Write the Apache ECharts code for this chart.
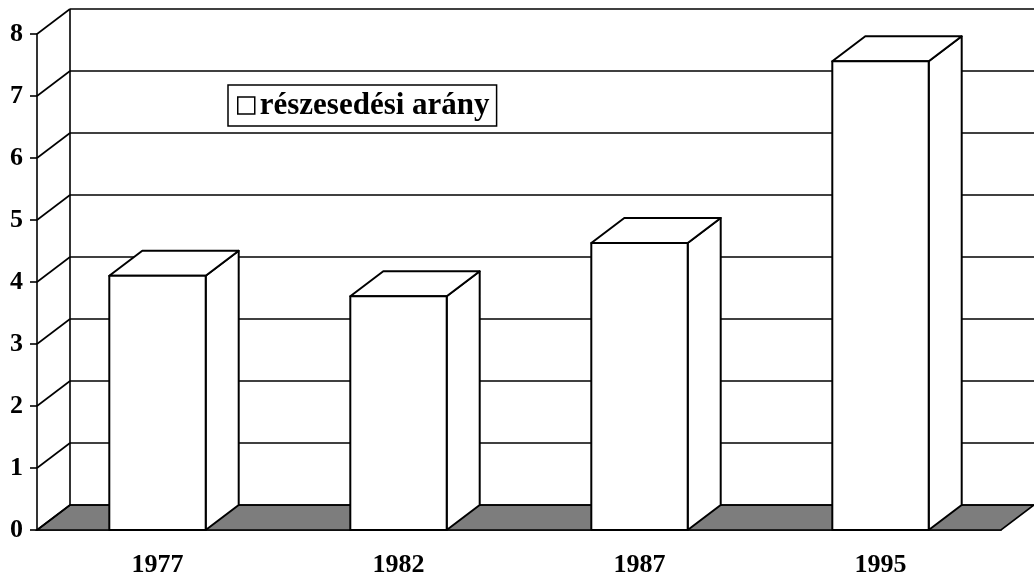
<!DOCTYPE html>
<html>
<head>
<meta charset="utf-8">
<script src="https://cdn.jsdelivr.net/npm/echarts@6/dist/echarts.min.js"></script>
<style>
  html, body { margin: 0; padding: 0; background: #fff; }
  #chart { width: 1034px; height: 584px; }
</style>
</head>
<body>
<div id="chart"></div>
<script>
var categories = ["1977", "1982", "1987", "1995"];
var shareValues = [4.1, 3.77, 4.63, 7.56];
var yTicks = [0, 1, 2, 3, 4, 5, 6, 7, 8];
var seriesName = "részesedési arány";

// 3D depth offset (px)
var DX = 33;
var DY = -25;
var FONT = "'Liberation Serif', 'Times New Roman', serif";

var chart = echarts.init(document.getElementById("chart"));

function plotEdges(api, v) {
  var band = api.size([1, 0])[0];
  var p0 = api.coord([0, v]);
  var p1 = api.coord([categories.length - 1, v]);
  return { xl: p0[0] - band / 2, xr: p1[0] + band / 2, y: p0[1] };
}

var lineStyle = { stroke: "#000", lineWidth: 1.6, fill: null };

chart.setOption({
  animation: false,
  backgroundColor: "#fff",
  grid: { left: 37, right: 33, top: 34, bottom: 54, containLabel: false },
  legend: {
    left: 228,
    top: 85,
    padding: [5, 7, 5, 9],
    borderColor: "#000",
    borderWidth: 1.5,
    itemWidth: 17,
    itemHeight: 17,
    itemGap: 6,
    textStyle: { fontFamily: FONT, fontWeight: "bold", fontSize: 31, color: "#000" },
    data: [{
      name: seriesName,
      icon: "rect",
      itemStyle: { color: "#fff", borderColor: "#000", borderWidth: 1.5 }
    }]
  },
  xAxis: {
    type: "category",
    data: categories,
    axisLine: { lineStyle: { color: "#000", width: 1.6 } },
    axisTick: { length: 9, lineStyle: { color: "#000", width: 1.6 } },
    axisLabel: { margin: 22, fontFamily: FONT, fontWeight: "bold", fontSize: 26, color: "#000" },
    splitLine: { show: false }
  },
  yAxis: {
    type: "value",
    min: 0,
    max: 8,
    interval: 1,
    axisLine: { show: true, lineStyle: { color: "#000", width: 1.6 } },
    axisTick: { show: true, length: 7, lineStyle: { color: "#000", width: 1.6 } },
    axisLabel: { margin: 14, fontFamily: FONT, fontWeight: "bold", fontSize: 26, color: "#000" },
    splitLine: { show: false }
  },
  series: [
    {
      // floor + back wall
      type: "custom",
      z: 1,
      silent: true,
      data: [[0, 0]],
      renderItem: function (params, api) {
        var e0 = plotEdges(api, 0);
        var top = api.coord([0, yTicks[yTicks.length - 1]])[1];
        return {
          type: "group",
          children: [
            {
              type: "polygon",
              shape: { points: [[e0.xl, e0.y], [e0.xr, e0.y], [e0.xr + DX, e0.y + DY], [e0.xl + DX, e0.y + DY]] },
              style: { fill: "#7d7d7d", stroke: "#000", lineWidth: 1.6 }
            },
            {
              type: "line",
              shape: { x1: e0.xl + DX, y1: e0.y + DY, x2: e0.xl + DX, y2: top + DY },
              style: lineStyle
            }
          ]
        };
      }
    },
    {
      // gridlines on back wall with side diagonals
      type: "custom",
      z: 2,
      silent: true,
      data: yTicks.map(function (t) { return [0, t]; }),
      renderItem: function (params, api) {
        var e = plotEdges(api, api.value(1));
        return {
          type: "group",
          children: [
            { type: "line", shape: { x1: e.xl, y1: e.y, x2: e.xl + DX, y2: e.y + DY }, style: lineStyle },
            { type: "line", shape: { x1: e.xl + DX, y1: e.y + DY, x2: e.xr + DX, y2: e.y + DY }, style: lineStyle }
          ]
        };
      }
    },
    {
      name: seriesName,
      type: "custom",
      z: 3,
      itemStyle: { color: "#fff", borderColor: "#000" },
      data: shareValues.map(function (v, i) { return [i, v]; }),
      renderItem: function (params, api) {
        var band = api.size([1, 0])[0];
        var w = band * 0.4;
        var pt = api.coord([api.value(0), api.value(1)]);
        var pb = api.coord([api.value(0), 0]);
        var xl = pt[0] - w / 2, xr = pt[0] + w / 2, yt = pt[1], yb = pb[1];
        var st = { fill: "#fff", stroke: "#000", lineWidth: 2, lineJoin: "round" };
        return {
          type: "group",
          children: [
            { type: "polygon", shape: { points: [[xr, yb], [xr, yt], [xr + DX, yt + DY], [xr + DX, yb + DY]] }, style: st },
            { type: "polygon", shape: { points: [[xl, yt], [xr, yt], [xr + DX, yt + DY], [xl + DX, yt + DY]] }, style: st },
            { type: "rect", shape: { x: xl, y: yt, width: w, height: yb - yt }, style: st }
          ]
        };
      }
    }
  ]
});
</script>
</body>
</html>
